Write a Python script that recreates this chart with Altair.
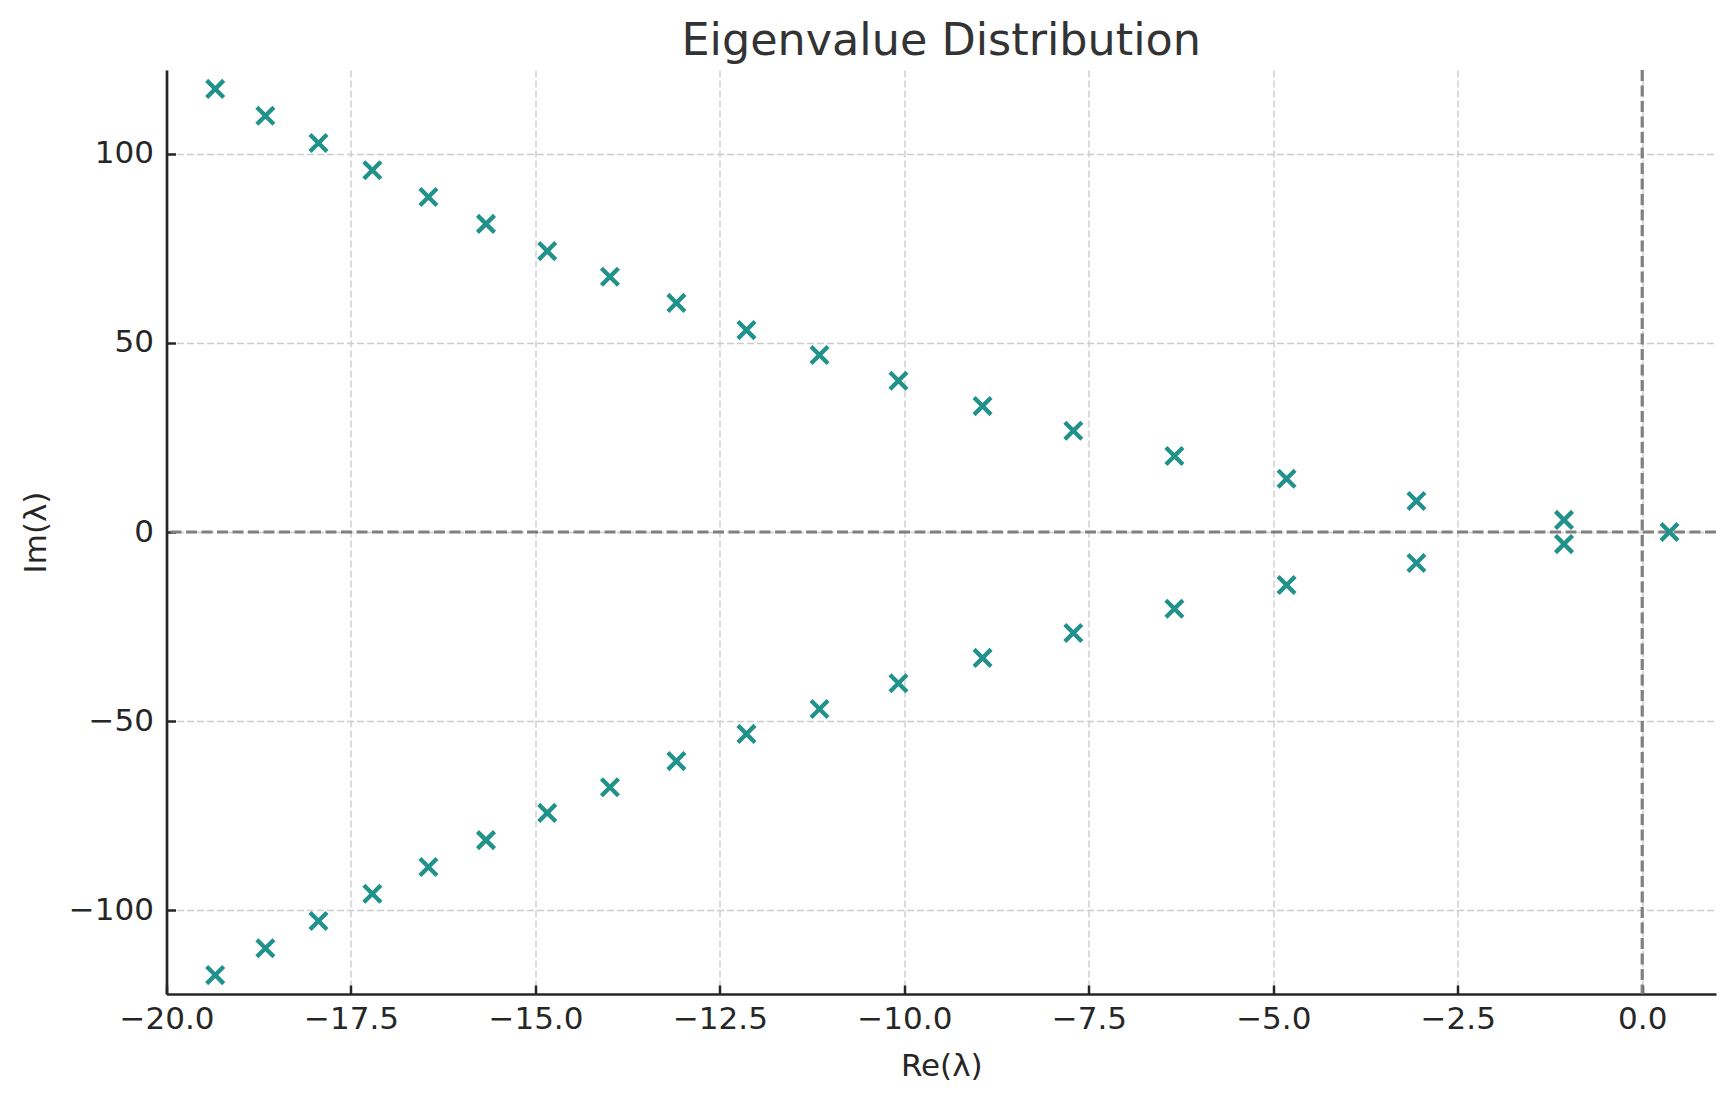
import altair as alt
import pandas as pd

re_pairs = [-19.34, -18.66, -17.94, -17.21, -16.45, -15.67, -14.84, -13.99, -13.09,
            -12.14, -11.15, -10.08, -8.94, -7.71, -6.34, -4.82, -3.06, -1.06]
im_upper = [117.2, 110.1, 102.9, 95.7, 88.6, 81.5, 74.3, 67.5, 60.6,
            53.4, 46.8, 40.0, 33.3, 26.8, 20.1, 14.1, 8.2, 3.2]
im_lower = [-117.2, -110.1, -102.9, -95.7, -88.6, -81.5, -74.3, -67.5, -60.6,
            -53.4, -46.8, -40.0, -33.3, -26.7, -20.3, -14.0, -8.2, -3.2]
re_real = [0.37]
im_real = [0.0]

x_ticks = [-20.0, -17.5, -15.0, -12.5, -10.0, -7.5, -5.0, -2.5, 0.0]
y_ticks = [-100, -50, 0, 50, 100]
x_domain = [-20, 1]
y_domain = [-122.2, 122.2]

W, H = 1549.5, 924
INK = "#262626"
FONT = "DejaVu Sans"

points = pd.DataFrame({
    "re": re_pairs + re_pairs + re_real,
    "im": im_upper + im_lower + im_real,
})
zero = pd.DataFrame({"v": [0.0]})

xs = alt.Scale(domain=x_domain, nice=False, zero=False)
ys = alt.Scale(domain=y_domain, nice=False, zero=False)

x_mark = "M-1,-1L1,1M-1,1L1,-1"

scatter = alt.Chart(points).mark_point(
    shape=x_mark, filled=False, size=290, strokeWidth=4.3, color="#21918c", opacity=1
).encode(
    x=alt.X("re:Q", scale=xs, title="Re(λ)",
            axis=alt.Axis(values=x_ticks, format=".1f", orient="bottom", grid=True,
                          ticks=False, tickSize=0, labelPadding=10, labelFlush=False,
                          titleX=W / 2, titleY=81, titleBaseline="alphabetic",
                          titleAlign="center")),
    y=alt.Y("im:Q", scale=ys, title="Im(λ)",
            axis=alt.Axis(values=y_ticks, format="d", orient="left", grid=True,
                          ticks=False, tickSize=0, labelPadding=13, labelFlush=False,
                          titleX=-121, titleY=H / 2, titleAngle=270,
                          titleBaseline="alphabetic", titleAlign="center")),
)

# inward-pointing ticks: extra tick-only axes flipped onto the left/bottom edges
tick_axis = dict(domain=False, labels=False, grid=False, ticks=True, tickSize=9,
                 tickWidth=2.5, tickColor=INK, title=None)

vline = alt.Chart(zero).mark_rule(color="#808080", strokeWidth=3.2, strokeDash=[11, 4.5]).encode(
    x=alt.X("v:Q", scale=xs,
            axis=alt.Axis(values=x_ticks, orient="top", offset=-H, **tick_axis))
)
hline = alt.Chart(zero).mark_rule(color="#808080", strokeWidth=3.2, strokeDash=[11, 4.5]).encode(
    y=alt.Y("v:Q", scale=ys,
            axis=alt.Axis(values=y_ticks, orient="right", offset=-W, **tick_axis))
)

chart = (
    alt.layer(vline, hline, scatter)
    .resolve_scale(x="independent", y="independent")
    .properties(
        width=W, height=H,
        autosize=alt.AutoSizeParams(type="none"),
        padding={"left": 158.5, "top": 62, "right": 12, "bottom": 100},
        title=alt.TitleParams("Eigenvalue Distribution", fontSize=44.5, font=FONT,
                              color="#333333", fontWeight="normal", anchor="middle",
                              baseline="alphabetic", offset=-31.5),
    )
    .configure(font=FONT, background="white")
    .configure_view(strokeWidth=0)
    .configure_axis(
        labelFont=FONT, labelFontSize=31, labelColor=INK,
        titleFont=FONT, titleFontSize=31, titleColor=INK, titleFontWeight="normal",
        domainColor=INK, domainWidth=2.7,
        gridColor="#cccccc", gridWidth=1.4, gridDash=[7, 3],
    )
)

chart.save("out.html", embed_options={"renderer": "svg", "actions": False})
